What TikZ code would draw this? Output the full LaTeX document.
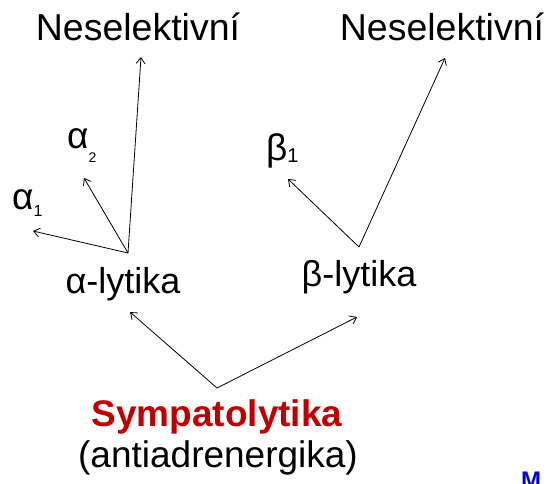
\documentclass[tikz,border=0pt]{standalone}
\usepackage{fontspec}
\setmainfont{Liberation Sans}
\usetikzlibrary{arrows.meta}
\definecolor{symred}{HTML}{C00000}
\definecolor{mblue}{HTML}{0000E6}
\begin{document}
\begin{tikzpicture}[x=1pt,y=-1pt,
  lbl/.style={inner sep=0pt, anchor=base, font=\fontsize{37}{42}\selectfont},
  conn/.style={line width=0.8pt, -{Straight Barb[length=6pt,width=9pt]}}]
\useasboundingbox (0,0) rectangle (550,483);
% labels
\node[lbl, font=\fontsize{37.5}{42}\selectfont] (nesA) at (138,40) {Neselektivní};
\node[lbl, font=\fontsize{37.5}{42}\selectfont] (nesB) at (442,40) {Neselektivní};
\node[lbl, font=\fontsize{36}{40}\selectfont] (alyt) at (123,293) {α-lytika};
\node[lbl, font=\fontsize{36}{40}\selectfont] (blyt) at (359,286) {β-lytika};
\node[lbl, anchor=base west] (a2) at (67,148) {α\raisebox{-14pt}{\fontsize{14}{14}\selectfont 2}};
\node[lbl, anchor=base west] (a1) at (12,209) {α\raisebox{-7pt}{\fontsize{16}{16}\selectfont 1}};
\node[lbl, anchor=base west] (b1) at (266,160) {β\raisebox{-2pt}{\fontsize{20}{20}\selectfont 1}};
\node[lbl, font=\bfseries\fontsize{37}{42}\selectfont, text=symred] (symp) at (217,426) {Sympatolytika};
\node[lbl] (anti) at (218,467) {(antiadrenergika)};
\node[inner sep=0pt, anchor=base west, text=mblue, font=\bfseries\fontsize{24}{24}\selectfont] (mu) at (521,488) {M};
% branching points and arrow ends
\coordinate (apA) at (128,253);
\coordinate (apB) at (359,247);
\coordinate (apS) at (217,388);
\coordinate (toA1) at (33,231);
\coordinate (toA2) at (84,178);
\coordinate (toNesA) at (141,57);
\coordinate (toB1) at (288,179);
\coordinate (toNesB) at (445,58);
\coordinate (toAlyt) at (130,312);
\coordinate (toBlyt) at (357,317);
% connectors
\draw[conn] (apA) -- (toA1);
\draw[conn] (apA) -- (toA2);
\draw[conn] (apA) -- (toNesA);
\draw[conn] (apB) -- (toB1);
\draw[conn] (apB) -- (toNesB);
\draw[conn] (apS) -- (toAlyt);
\draw[conn] (apS) -- (toBlyt);
\end{tikzpicture}
\end{document}
